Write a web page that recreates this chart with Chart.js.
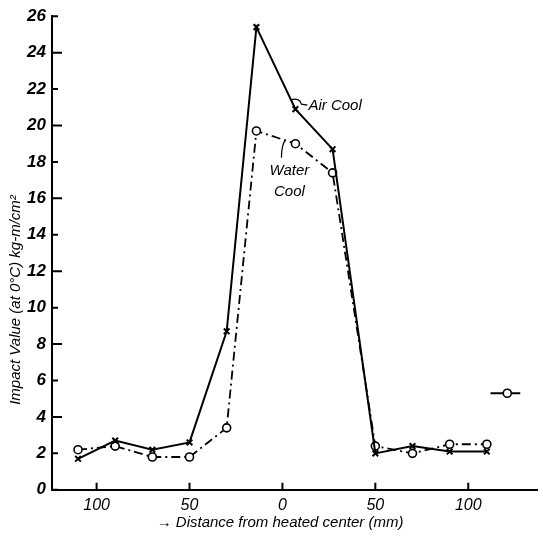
<!DOCTYPE html>
<html>
<head>
<meta charset="utf-8">
<script src="https://cdn.jsdelivr.net/npm/chart.js@4/dist/chart.umd.min.js"></script>
<style>
  html, body { margin: 0; padding: 0; background: #fff; }
  #wrap { width: 543px; height: 537px; position: relative; }
</style>
</head>
<body>
<div id="wrap"><canvas id="c" width="543" height="537"></canvas></div>
<script>
// ---- data (distance from heated center in mm; negative = left side) ----
const distances = [-110, -90, -70, -50, -30, -14, 7, 27, 50, 70, 90, 110];
const airCool   = [1.7, 2.7, 2.2, 2.6, 8.7, 25.4, 20.9, 18.7, 2.0, 2.4, 2.1, 2.1];
const waterCool = [2.2, 2.4, 1.8, 1.8, 3.4, 19.7, 19.0, 17.4, 2.4, 2.0, 2.5, 2.5];
const strayMarkX = [112, 121, 128];
const strayMarkY = [5.3, 5.3, 5.3];
const xTickValues = [-100, -50, 0, 50, 100];
const yTickValues = [0, 2, 4, 6, 8, 10, 12, 14, 16, 18, 20, 22, 24, 26];
const airLabel = "Air Cool";
const waterLabel = ["Water", "Cool"];
const xTitle = "\u2192 Distance from heated center (mm)";
const yTitle = "Impact Value (at 0\u00b0C) kg-m/cm\u00b2";

const toXY = (xs, ys) => xs.map((x, i) => ({ x: x, y: ys[i] }));

const innerTicks = {
  id: 'innerTicks',
  afterDraw(chart) {
    const ctx = chart.ctx;
    const xs = chart.scales.x, ys = chart.scales.y;
    const area = chart.chartArea;
    ctx.save();
    ctx.strokeStyle = '#000';
    ctx.lineWidth = 2;
    ctx.beginPath();
    xTickValues.forEach(v => {
      const px = xs.getPixelForValue(v);
      ctx.moveTo(px, area.bottom);
      ctx.lineTo(px, area.bottom - 7);
    });
    yTickValues.forEach(v => {
      const py = ys.getPixelForValue(v);
      ctx.moveTo(area.left, py);
      ctx.lineTo(area.left + (v % 4 === 0 && v !== 0 ? 10 : 6), py);
    });
    ctx.stroke();

    // annotations
    ctx.fillStyle = '#000';
    ctx.font = 'italic 15px "Liberation Sans", Arial, sans-serif';
    ctx.textBaseline = 'middle';
    ctx.textAlign = 'left';
    const ax = xs.getPixelForValue(7), ay = ys.getPixelForValue(20.9);
    ctx.fillText(airLabel, ax + 13, ay - 3);
    ctx.lineWidth = 1.2;
    ctx.beginPath();
    ctx.moveTo(ax - 5, ay - 9);
    ctx.quadraticCurveTo(ax + 4, ay - 12, ax + 6, ay - 5);
    ctx.lineTo(ax + 12, ay - 4);
    ctx.stroke();

    const wx = xs.getPixelForValue(7), wy = ys.getPixelForValue(19.0);
    ctx.textAlign = 'center';
    ctx.fillText(waterLabel[0], wx - 6, wy + 27);
    ctx.fillText(waterLabel[1], wx - 6, wy + 48);
    ctx.beginPath();
    ctx.moveTo(wx - 10, wy - 4);
    ctx.quadraticCurveTo(wx - 14, wy + 2, wx - 14, wy + 14);
    ctx.stroke();

    // axis titles
    ctx.font = 'italic 15px "Liberation Sans", Arial, sans-serif';
    ctx.textAlign = 'center';
    ctx.fillText(xTitle, 280, 523);
    ctx.save();
    ctx.translate(16, 300);
    ctx.rotate(-Math.PI / 2);
    ctx.fillText(yTitle, 0, 0);
    ctx.restore();
    ctx.restore();
  }
};

new Chart(document.getElementById('c'), {
  type: 'line',
  data: {
    datasets: [
      {
        label: airLabel,
        data: toXY(distances, airCool),
        borderColor: '#000',
        borderWidth: 2,
        pointStyle: 'crossRot',
        pointRadius: 4,
        pointBorderWidth: 2,
        pointBorderColor: '#000',
        tension: 0
      },
      {
        label: waterLabel.join(' '),
        data: toXY(distances, waterCool),
        borderColor: '#000',
        borderWidth: 1.8,
        borderDash: [9, 4, 2, 4],
        pointStyle: 'circle',
        pointRadius: 4,
        pointBorderWidth: 1.6,
        pointBackgroundColor: '#fff',
        pointBorderColor: '#000',
        tension: 0
      },
      {
        label: 'mark',
        data: toXY(strayMarkX, strayMarkY),
        borderColor: '#000',
        borderWidth: 2,
        pointRadius: [0, 4, 0],
        pointStyle: 'circle',
        pointBackgroundColor: '#fff',
        pointBorderColor: '#000',
        pointBorderWidth: 1.6
      }
    ]
  },
  options: {
    responsive: false,
    animation: false,
    layout: { padding: { left: 0, right: 0, top: 14, bottom: 16 } },
    plugins: { legend: { display: false }, tooltip: { enabled: false } },
    scales: {
      x: {
        type: 'linear',
        min: -124,
        max: 137,
        afterBuildTicks: (s) => { s.ticks = xTickValues.map(v => ({ value: v })); },
        grid: { display: false, drawTicks: false },
        border: { display: true, color: '#000', width: 2 },
        ticks: {
          color: '#000',
          padding: 6,
          autoSkip: false,
          maxRotation: 0,
          font: { family: '"Liberation Sans", Arial, sans-serif', size: 16, style: 'italic' },
          callback: (v) => String(Math.abs(v))
        }
      },
      y: {
        min: 0,
        max: 26,
        afterBuildTicks: (s) => { s.ticks = yTickValues.map(v => ({ value: v })); },
        afterFit: (s) => { s.width = 52; },
        grid: { display: false, drawTicks: false },
        border: { display: true, color: '#000', width: 2 },
        ticks: {
          color: '#000',
          padding: 6,
          autoSkip: false,
          font: { family: '"Liberation Sans", Arial, sans-serif', size: 17, style: 'italic', weight: 'bold' }
        }
      }
    }
  },
  plugins: [innerTicks]
});
</script>
</body>
</html>
